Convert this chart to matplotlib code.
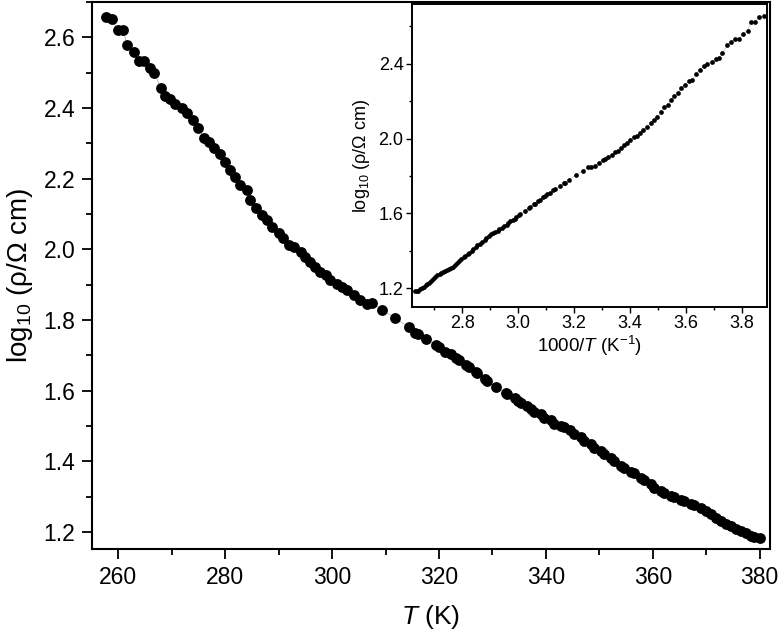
import numpy as np
import matplotlib
matplotlib.use('Agg')
import matplotlib.pyplot as plt
from matplotlib.ticker import MultipleLocator

plt.rcParams['font.family'] = ['Liberation Sans', 'DejaVu Sans']
plt.rcParams['mathtext.fontset'] = 'custom'
plt.rcParams['mathtext.rm'] = 'Liberation Sans'
plt.rcParams['mathtext.it'] = 'Liberation Sans:italic'

# temperature (K) and log10 resistivity
temp_K = [257.8, 258.8, 259.9, 260.9, 261.7, 262.9, 263.8, 264.9, 265.9, 266.7,
          268.0, 268.8, 269.7, 270.7, 271.9, 272.9, 274.0, 275.0, 276.0, 277.0,
          278.0, 279.0, 280.0, 281.0, 281.9, 282.7, 284.0, 284.7, 285.8, 286.9,
          287.8, 288.8, 290.0, 290.9, 291.9, 292.8, 294.1, 295.0, 295.9, 296.9,
          297.8, 298.8, 299.7, 300.9, 301.9, 302.8, 304.1, 305.3, 306.6, 307.5,
          309.4, 311.8, 314.4, 315.6, 316.0, 317.5, 319.4, 320.0, 321.2, 322.2,
          323.1, 323.7, 325.0, 325.6, 326.9, 327.2, 328.7, 329.0, 330.6, 332.5,
          332.8, 334.3, 334.7, 335.3, 336.5, 337.2, 337.8, 339.0, 339.7, 340.9,
          341.5, 342.8, 343.4, 344.6, 345.3, 346.5, 347.1, 348.4, 349.0, 350.3,
          350.9, 352.1, 352.7, 354.0, 354.6, 355.9, 356.5, 357.8, 358.4, 359.6,
          360.2, 361.5, 362.1, 363.4, 364.0, 365.2, 365.9, 367.1, 367.7, 369.0,
          369.9, 370.9, 371.8, 372.7, 373.7, 374.6, 375.6, 376.5, 377.4, 378.4,
          379.0, 380.1]
log_rho = [2.656, 2.651, 2.621, 2.621, 2.577, 2.557, 2.533, 2.532, 2.514, 2.500,
           2.457, 2.433, 2.424, 2.410, 2.400, 2.386, 2.367, 2.343, 2.315, 2.305,
           2.287, 2.270, 2.246, 2.225, 2.206, 2.182, 2.168, 2.140, 2.116, 2.097,
           2.083, 2.064, 2.045, 2.031, 2.012, 2.007, 1.993, 1.979, 1.964, 1.950,
           1.936, 1.927, 1.913, 1.903, 1.893, 1.884, 1.870, 1.856, 1.846, 1.848,
           1.829, 1.806, 1.779, 1.763, 1.761, 1.747, 1.728, 1.724, 1.709, 1.704,
           1.692, 1.688, 1.672, 1.668, 1.653, 1.650, 1.633, 1.628, 1.611, 1.595,
           1.591, 1.579, 1.572, 1.564, 1.557, 1.548, 1.540, 1.534, 1.524, 1.517,
           1.506, 1.501, 1.496, 1.488, 1.478, 1.469, 1.458, 1.449, 1.439, 1.430,
           1.420, 1.409, 1.401, 1.387, 1.382, 1.371, 1.366, 1.354, 1.347, 1.335,
           1.325, 1.316, 1.311, 1.302, 1.299, 1.290, 1.287, 1.280, 1.277, 1.269,
           1.259, 1.250, 1.240, 1.231, 1.224, 1.217, 1.209, 1.202, 1.197, 1.188,
           1.186, 1.183]

T = np.array(temp_K)
y = np.array(log_rho)
inv_T = 1000.0 / T

fig = plt.figure(figsize=(7.8, 6.37), dpi=100)

# main panel
ax = fig.add_axes([0.118, 0.138, 0.869, 0.859])
ax.plot(T, y, '-', color='#999999', lw=0.4, zorder=1)
ax.plot(T, y, 'o', color='black', ms=7.8, mew=0, zorder=2)
ax.set_xlim(255.1, 381.9)
ax.set_ylim(1.152, 2.70)
ax.xaxis.set_major_locator(MultipleLocator(20))
ax.xaxis.set_minor_locator(MultipleLocator(10))
ax.yaxis.set_major_locator(MultipleLocator(0.2))
ax.yaxis.set_minor_locator(MultipleLocator(0.1))
ax.yaxis.set_major_formatter(plt.FormatStrFormatter('%.1f'))
ax.tick_params(which='major', direction='out', length=7, width=1.3, labelsize=16.5, pad=5)
ax.tick_params(which='minor', direction='out', length=4, width=1.3)
for s in ax.spines.values():
    s.set_linewidth(1.5)
ax.set_xlabel('$T$ (K)', fontsize=19, labelpad=10)
ax.set_ylabel('log$_{10}$ (ρ/Ω cm)', fontsize=20, labelpad=6)

# inset
ins = fig.add_axes([0.528, 0.518, 0.455, 0.476])
ins.plot(inv_T, y, '-', color='#999999', lw=0.3, zorder=1)
ins.plot(inv_T, y, 'o', color='black', ms=3.4, mew=0, zorder=2)
ins.set_xlim(2.62, 3.89)
ins.set_ylim(1.10, 2.72)
ins.xaxis.set_major_locator(MultipleLocator(0.2))
ins.xaxis.set_minor_locator(MultipleLocator(0.1))
ins.yaxis.set_major_locator(MultipleLocator(0.4))
ins.yaxis.set_minor_locator(MultipleLocator(0.2))
ins.xaxis.set_major_formatter(plt.FormatStrFormatter('%.1f'))
ins.yaxis.set_major_formatter(plt.FormatStrFormatter('%.1f'))
ins.tick_params(which='major', direction='out', length=4, width=1.0, labelsize=13, pad=2)
ins.tick_params(which='minor', direction='out', length=2.5, width=1.0)
for s in ins.spines.values():
    s.set_linewidth(1.4)
ins.set_xlabel('1000/$T$ (K$^{-1}$)', fontsize=13.5, labelpad=1)
ins.set_ylabel('log$_{10}$ (ρ/Ω cm)', fontsize=13, labelpad=5)

fig.savefig('out.png', dpi=100)
